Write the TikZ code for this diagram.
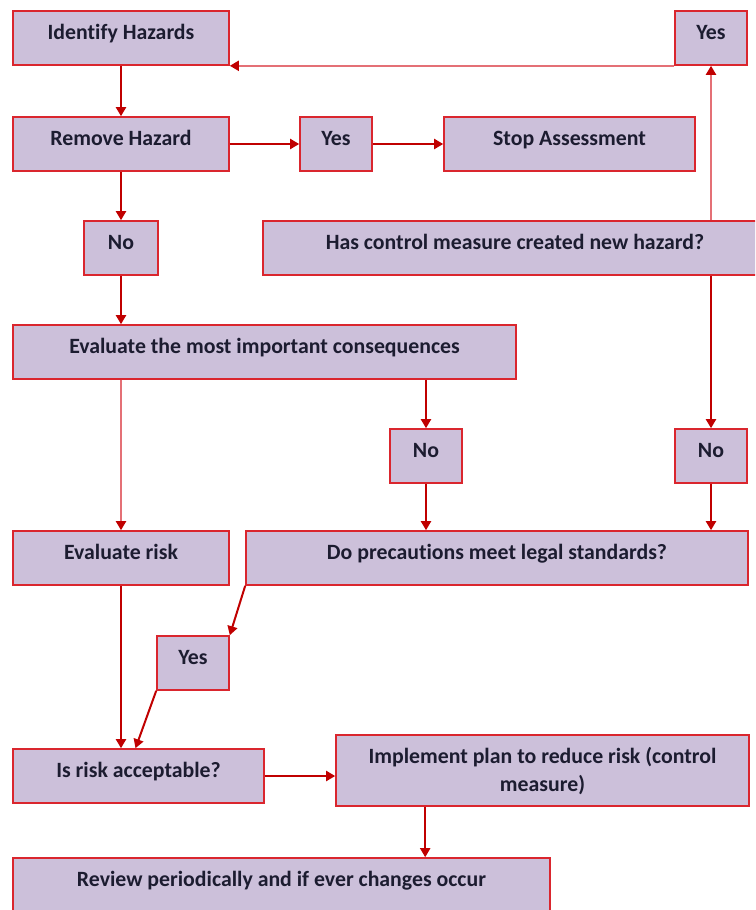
\documentclass[tikz,border=0pt]{standalone}
\usepackage{fontspec}
\setmainfont{Carlito}[Ligatures=NoCommon]
\usetikzlibrary{arrows.meta}

\definecolor{boxfill}{RGB}{204,192,218}
\definecolor{boxline}{RGB}{218,38,46}
\definecolor{arrowred}{RGB}{192,0,0}
\definecolor{paleline}{RGB}{228,112,118}
\definecolor{inktext}{RGB}{28,28,48}

\tikzset{
  stepbox/.style={draw=boxline, fill=boxfill, line width=1.6pt, text=inktext,
    font=\bfseries\fontsize{21.8}{28}\selectfont, anchor=base, align=center,
    inner xsep=0pt, inner ysep=0pt, text height=28.5pt, text depth=25.5pt,
    minimum width=#1pt},
  flow/.style={draw=arrowred, line width=2pt,
    -{Triangle[length=9pt,width=10pt,color=arrowred]}},
  paleflow/.style={flow, draw=paleline},
}

\begin{document}
\begin{tikzpicture}[x=1pt, y=-1pt]
  \useasboundingbox (0,0) rectangle (755,910);
  \clip (0,0) rectangle (755,910);

  % Boxes
  \node[stepbox=216] (identify) at (121,39.5) {Identify Hazards};
  \node[stepbox=72] (yestop) at (711,39.5) {Yes};
  \node[stepbox=216] (remove) at (121,145.5) {Remove Hazard};
  \node[stepbox=72] (yesone) at (336,145.5) {Yes};
  \node[stepbox=251] (stop) at (569.5,145.5) {Stop Assessment};
  \node[stepbox=74] (nofirst) at (121,249.5) {No};
  \node[stepbox=504] (hasctrl) at (515,249.5) {Has control measure created new hazard?};
  \node[stepbox=503] (evalcons) at (264.5,353.5) {Evaluate the most important consequences};
  \node[stepbox=72] (nomid) at (426,457.5) {No};
  \node[stepbox=72] (noright) at (711,457.5) {No};
  \node[stepbox=216] (evalrisk) at (121,559.5) {Evaluate risk};
  \node[stepbox=502] (doprec) at (497,559.5) {Do precautions meet legal standards?};
  \node[stepbox=72] (yeslow) at (193,664.5) {Yes};
  \node[stepbox=251] (isrisk) at (138.5,777.5) {Is risk acceptable?};
  % two lines: base sits on the last line
  \node[stepbox=413, text height=56pt, text depth=15pt] (implement) at (542.5,791)
    {Implement plan to reduce risk (control\\measure)};
  \node[stepbox=537] (review) at (281.5,886.5) {Review periodically and if ever changes occur};

  % Main column
  \draw[flow] (identify) -- (remove);
  \draw[flow] (remove) -- (nofirst);
  \draw[flow] (nofirst) -- (nofirst |- evalcons.north);
  \draw[paleflow] (evalcons.south -| evalrisk) -- (evalrisk);
  \draw[flow] (evalrisk) -- (evalrisk |- isrisk.north);

  % Yes branch at the top
  \draw[flow] (remove) -- (yesone);
  \draw[flow] (yesone) -- (stop);

  % New hazard loop
  \draw[paleflow] (hasctrl.north -| yestop) -- (yestop.south);
  \draw[paleflow] (yestop.south west) -- (identify.south east);
  \draw[flow] (hasctrl.south -| noright) -- (noright);
  \draw[flow] (noright) -- (noright |- doprec.north);

  % Legal standards
  \draw[flow] (evalcons.south -| nomid) -- (nomid);
  \draw[flow] (nomid) -- (nomid |- doprec.north);
  \draw[flow] (doprec.south west) -- (yeslow.north east);
  \draw[flow] (yeslow.south west) -- ([xshift=-3pt]isrisk.north);

  % Control measure
  \draw[flow] (isrisk.east) -- (isrisk.east -| implement.west);
  \coordinate (planout) at ([xshift=90pt]implement.south west);
  \draw[flow] (planout) -- (planout |- review.north);
\end{tikzpicture}
\end{document}
